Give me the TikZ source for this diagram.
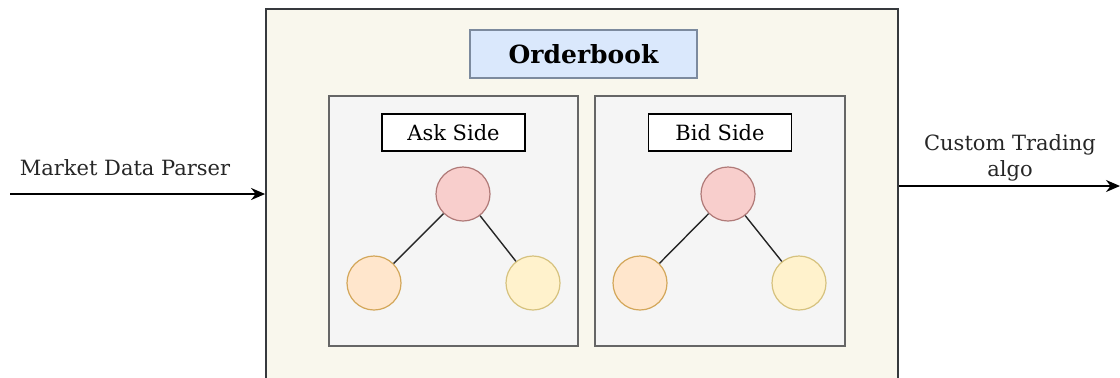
\documentclass[tikz,border=0pt]{standalone}
\usepackage{fontspec}
\setmainfont{DejaVu Serif}
\usetikzlibrary{arrows.meta}
\definecolor{bookfill}{HTML}{F9F7ED}
\definecolor{bookline}{HTML}{36393D}
\definecolor{titlefill}{HTML}{DAE8FC}
\definecolor{titleline}{HTML}{7C8A9E}
\definecolor{sidefill}{HTML}{F5F5F5}
\definecolor{sideline}{HTML}{666666}
\definecolor{rootfill}{HTML}{F8CECC}
\definecolor{rootline}{HTML}{B07A78}
\definecolor{lofill}{HTML}{FFE6CC}
\definecolor{loline}{HTML}{D3A75A}
\definecolor{hifill}{HTML}{FFF2CC}
\definecolor{hiline}{HTML}{D6C27E}

\begin{document}
\begin{tikzpicture}[x=0.5pt,y=-0.5pt,
    txt/.style={font=\fontsize{10.5}{13}\selectfont},
    sidebox/.style={draw=sideline,fill=sidefill,line width=0.8pt,minimum height=125pt},
    sidelabel/.style={txt,draw=black,fill=white,line width=0.8pt,minimum width=71.5pt,minimum height=18.5pt,inner sep=0pt},
    heap/.style={circle,line width=0.6pt,minimum size=27pt,inner sep=0pt},
    edge/.style={line width=0.7pt,draw=black!85},
    feedarrow/.style={line width=1pt,-{Stealth[length=7pt,width=6pt]}}]
    \useasboundingbox (0,0) rectangle (1120,377);
    \node[draw=bookline,fill=bookfill,line width=0.9pt,minimum width=316pt,minimum height=188pt] (book) at (582,197) {};
    \node[draw=titleline,fill=titlefill,line width=0.8pt,minimum width=113.5pt,minimum height=24pt,
        font=\fontsize{12.5}{14}\selectfont\bfseries] (title) at (583.5,54) {Orderbook};
    % ask side
    \node[sidebox,minimum width=124.5pt] (askbox) at (453.5,221) {};
    \node[sidelabel] (asklabel) at (453.5,132.5) {Ask Side};
    \node[heap,draw=rootline,fill=rootfill] (askroot) at (463,194) {};
    \node[heap,draw=loline,fill=lofill] (asklo) at (374,283) {};
    \node[heap,draw=hiline,fill=hifill] (askhi) at (533,283) {};
    \draw[edge] (askroot)--(asklo);
    \draw[edge] (askroot)--(askhi);
    % bid side
    \node[sidebox,minimum width=125pt] (bidbox) at (720,221) {};
    \node[sidelabel] (bidlabel) at (720,132.5) {Bid Side};
    \node[heap,draw=rootline,fill=rootfill] (bidroot) at (728,194) {};
    \node[heap,draw=loline,fill=lofill] (bidlo) at (640,283) {};
    \node[heap,draw=hiline,fill=hifill] (bidhi) at (799,283) {};
    \draw[edge] (bidroot)--(bidlo);
    \draw[edge] (bidroot)--(bidhi);
    % feeds in and out
    \coordinate (feed) at (10,194);
    \coordinate (algo) at (1120,186);
    \draw[feedarrow] (feed) -- (feed -| book.west);
    \draw[feedarrow] (algo -| book.east) -- (algo);
    \node[txt,text=black!85] (parser) at (125,168) {Market Data Parser};
    \node[txt,text=black!85,align=center] (custom) at (1010,158) {Custom Trading\\algo};
\end{tikzpicture}
\end{document}
